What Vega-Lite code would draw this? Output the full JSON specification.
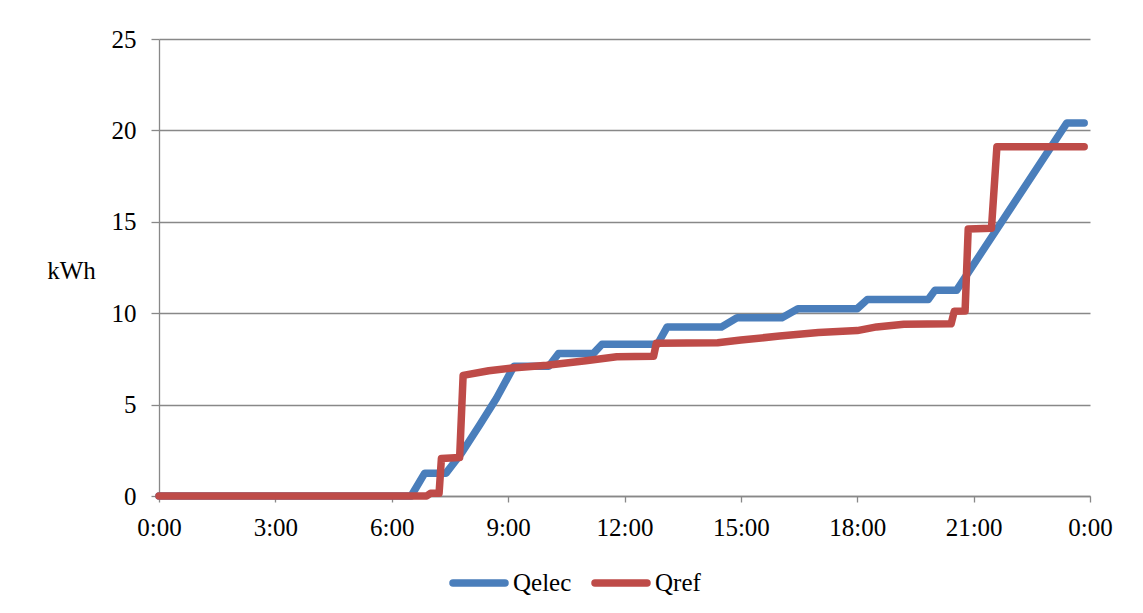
{
  "$schema": "https://vega.github.io/schema/vega-lite/v6.json",
  "width": 931,
  "height": 457,
  "autosize": {"type": "none"},
  "padding": {"left": 159, "top": 39, "right": 53, "bottom": 117},
  "background": "white",
  "config": {
    "view": {"stroke": null},
    "font": "Liberation Serif",
    "axis": {
      "labelFont": "Liberation Serif",
      "titleFont": "Liberation Serif",
      "labelColor": "#000000",
      "titleColor": "#000000",
      "labelFontSize": 25,
      "titleFontSize": 25,
      "titleFontWeight": "normal",
      "domainColor": "#888888",
      "tickColor": "#888888",
      "gridColor": "#888888",
      "domainWidth": 1.3,
      "tickWidth": 1.3,
      "gridWidth": 1.3
    },
    "legend": {
      "labelFont": "Liberation Serif",
      "labelFontSize": 25,
      "labelColor": "#000000"
    }
  },
  "data": {
    "values": [
      {"t": 0, "series": "Qelec", "v": 0},
      {"t": 6.5, "series": "Qelec", "v": 0},
      {"t": 6.85, "series": "Qelec", "v": 1.25},
      {"t": 7.4, "series": "Qelec", "v": 1.25},
      {"t": 7.8, "series": "Qelec", "v": 2.35},
      {"t": 8.27, "series": "Qelec", "v": 3.9},
      {"t": 8.7, "series": "Qelec", "v": 5.35},
      {"t": 9.15, "series": "Qelec", "v": 7.1},
      {"t": 10.05, "series": "Qelec", "v": 7.1},
      {"t": 10.3, "series": "Qelec", "v": 7.8},
      {"t": 11.2, "series": "Qelec", "v": 7.8},
      {"t": 11.42, "series": "Qelec", "v": 8.3},
      {"t": 12.85, "series": "Qelec", "v": 8.3},
      {"t": 13.1, "series": "Qelec", "v": 9.25},
      {"t": 14.5, "series": "Qelec", "v": 9.25},
      {"t": 14.9, "series": "Qelec", "v": 9.75},
      {"t": 16.06, "series": "Qelec", "v": 9.75},
      {"t": 16.47, "series": "Qelec", "v": 10.25},
      {"t": 18.0, "series": "Qelec", "v": 10.25},
      {"t": 18.26, "series": "Qelec", "v": 10.75},
      {"t": 19.83, "series": "Qelec", "v": 10.75},
      {"t": 20.0, "series": "Qelec", "v": 11.25},
      {"t": 20.56, "series": "Qelec", "v": 11.25},
      {"t": 23.4, "series": "Qelec", "v": 20.4},
      {"t": 23.85, "series": "Qelec", "v": 20.4},
      {"t": 0, "series": "Qref", "v": 0},
      {"t": 6.9, "series": "Qref", "v": 0},
      {"t": 7.0, "series": "Qref", "v": 0.15},
      {"t": 7.22, "series": "Qref", "v": 0.15},
      {"t": 7.28, "series": "Qref", "v": 2.05},
      {"t": 7.75, "series": "Qref", "v": 2.1},
      {"t": 7.84, "series": "Qref", "v": 6.6},
      {"t": 8.5, "series": "Qref", "v": 6.85},
      {"t": 9.1, "series": "Qref", "v": 7.0},
      {"t": 10.0, "series": "Qref", "v": 7.15},
      {"t": 11.0, "series": "Qref", "v": 7.4},
      {"t": 11.8, "series": "Qref", "v": 7.62},
      {"t": 12.75, "series": "Qref", "v": 7.65},
      {"t": 12.82, "series": "Qref", "v": 8.35},
      {"t": 14.4, "series": "Qref", "v": 8.38},
      {"t": 15.0, "series": "Qref", "v": 8.53},
      {"t": 16.0, "series": "Qref", "v": 8.75},
      {"t": 17.0, "series": "Qref", "v": 8.95},
      {"t": 18.0, "series": "Qref", "v": 9.05},
      {"t": 18.5, "series": "Qref", "v": 9.25},
      {"t": 19.2, "series": "Qref", "v": 9.4},
      {"t": 20.42, "series": "Qref", "v": 9.42},
      {"t": 20.5, "series": "Qref", "v": 10.1},
      {"t": 20.78, "series": "Qref", "v": 10.12},
      {"t": 20.86, "series": "Qref", "v": 14.6},
      {"t": 21.46, "series": "Qref", "v": 14.65},
      {"t": 21.6, "series": "Qref", "v": 19.1},
      {"t": 23.85, "series": "Qref", "v": 19.1}
    ]
  },
  "mark": {"type": "line", "strokeWidth": 7.5, "strokeCap": "round", "strokeJoin": "round", "clip": false},
  "encoding": {
    "x": {
      "field": "t",
      "type": "quantitative",
      "scale": {"domain": [0, 24], "nice": false, "zero": false},
      "axis": {
        "values": [0, 3, 6, 9, 12, 15, 18, 21, 24],
        "labelExpr": "datum.value == 24 ? '0:00' : datum.value + ':00'",
        "title": null,
        "grid": false,
        "tickSize": 6,
        "labelPadding": 13,
        "labelFlush": false
      }
    },
    "y": {
      "field": "v",
      "type": "quantitative",
      "scale": {"domain": [0, 25], "nice": false},
      "axis": {
        "values": [0, 5, 10, 15, 20, 25],
        "title": "kWh",
        "titleAngle": 0,
        "titleAlign": "center",
        "titleBaseline": "middle",
        "titleX": -88,
        "titleY": 231,
        "grid": true,
        "tickSize": 8,
        "labelPadding": 15,
        "labelFlush": false
      }
    },
    "color": {
      "field": "series",
      "type": "nominal",
      "scale": {"domain": ["Qelec", "Qref"], "range": ["#4A7EBB", "#BE4B48"]},
      "legend": {
        "title": null,
        "orient": "none",
        "direction": "horizontal",
        "legendX": 290,
        "legendY": 514,
        "symbolType": "stroke",
        "symbolSize": 2704,
        "symbolStrokeWidth": 7.5,
        "labelOffset": 4,
        "columnPadding": 8,
        "encode": {"symbols": {"update": {"strokeCap": {"value": "round"}}}}
      }
    }
  }
}
